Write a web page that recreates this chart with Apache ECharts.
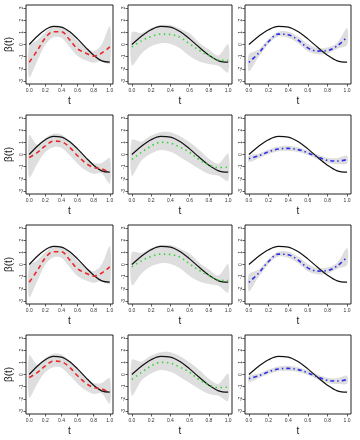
<!DOCTYPE html>
<html>
<head>
<meta charset="utf-8">
<script src="https://cdn.jsdelivr.net/npm/echarts@6/dist/echarts.min.js"></script>
<style>
  html, body { margin: 0; padding: 0; background: #fff; }
  #chart { width: 360px; height: 440px; }
</style>
</head>
<body>
<div id="chart"></div>
<script>
const tValues = [0, 0.1, 0.2, 0.3, 0.4, 0.5, 0.6, 0.7, 0.8, 0.9, 1.0]
const xTicks = [0, 0.2, 0.4, 0.6, 0.8, 1.0]
const yTicks = [-3, -2, -1, 0, 1, 2, 3]
const trueBeta = [0, 0.68, 1.21, 1.48, 1.43, 1.06, 0.46, -0.23, -0.88, -1.34, -1.45]

// rows 1 and 3
const redEstA = [-1.45, -0.5, 0.55, 1.05, 1.05, 0.4, -0.35, -0.7, -0.95, -0.7, -0.2]
const redLoA = [-2.7, -1.35, 0.0, 0.6, 0.55, -0.2, -0.95, -1.3, -1.5, -1.35, -1.6]
const redHiA = [-0.1, 0.35, 1.0, 1.5, 1.5, 1.0, 0.3, -0.2, -0.55, 0.0, 1.5]

const greenEstA = [-0.2, 0.3, 0.65, 0.85, 0.82, 0.6, 0.05, -0.48, -0.9, -1.27, -1.32]
const greenLoA = [-1.7, -0.75, -0.15, 0.1, 0.05, -0.3, -0.95, -1.4, -1.6, -1.75, -2.3]
const greenHiA = [1.0, 0.95, 1.35, 1.6, 1.6, 1.3, 0.9, 0.15, -0.4, -0.9, 0.05]

const blueEstA = [-1.46, -0.7, 0.25, 0.85, 0.8, 0.37, -0.28, -0.54, -0.5, -0.11, 0.6]
const blueLoA = [-2.2, -1.0, 0.05, 0.65, 0.55, 0.1, -0.55, -0.8, -0.75, -0.35, -0.05]
const blueHiA = [-0.8, -0.4, 0.45, 1.05, 1.05, 0.65, 0.05, -0.3, -0.25, 0.15, 1.35]

// rows 2 and 4
const redEstB = [-0.25, 0.15, 0.7, 1.1, 1.05, 0.6, -0.1, -0.7, -1.07, -1.18, -1.5]
const redLoB = [-1.9, -0.75, 0.2, 0.6, 0.55, -0.05, -0.75, -1.3, -1.6, -1.55, -2.4]
const redHiB = [1.6, 0.8, 1.35, 1.7, 1.65, 1.15, 0.4, -0.2, -0.7, -0.7, -0.3]

const greenEstB = [-0.4, 0.17, 0.7, 1.0, 0.93, 0.6, 0.17, -0.42, -0.85, -1.07, -1.04]
const greenLoB = [-1.75, -0.5, 0.08, 0.37, 0.22, -0.2, -0.7, -1.18, -1.6, -1.75, -2.17]
const greenHiB = [1.2, 1.05, 1.55, 1.83, 1.83, 1.5, 1.0, 0.37, -0.34, -0.76, 0.08]

const blueEstB = [-0.34, -0.11, 0.22, 0.45, 0.5, 0.4, 0.14, -0.2, -0.48, -0.54, -0.42]
const blueLoB = [-0.6, -0.3, 0.05, 0.27, 0.3, 0.2, -0.05, -0.4, -0.7, -0.78, -0.75]
const blueHiB = [-0.1, 0.08, 0.4, 0.65, 0.72, 0.6, 0.33, 0.0, -0.27, -0.3, -0.1]

const rowA = [
  { est: redEstA, lo: redLoA, hi: redHiA, color: '#E8282B', dash: [4.5, 3.5] },
  { est: greenEstA, lo: greenLoA, hi: greenHiA, color: '#33D633', dash: [1.5, 3.5] },
  { est: blueEstA, lo: blueLoA, hi: blueHiA, color: '#2F2FE8', dash: [1.5, 3, 4, 3] },
]
const rowB = [
  { est: redEstB, lo: redLoB, hi: redHiB, color: '#E8282B', dash: [4.5, 3.5] },
  { est: greenEstB, lo: greenLoB, hi: greenHiB, color: '#33D633', dash: [1.5, 3.5] },
  { est: blueEstB, lo: blueLoB, hi: blueHiB, color: '#2F2FE8', dash: [1.5, 3, 4, 3] },
]
const rows = [rowA, rowB, rowA, rowB]

const colLeft = [26, 128, 245]
const colWidth = [87, 104, 106]
const rowTop = [5, 115, 225, 335]
const panelHeight = 79
const font = 'Liberation Sans, Arial, sans-serif'

const zip = (xs, ys) => xs.map((x, i) => [x, ys[i]])

// confidence band as one smoothed polygon: upper edge forward, lower edge back
function bandItem(p) {
  return (params, api) => {
    if (params.dataIndex !== 0) return null
    const upper = tValues.map((t, i) => api.coord([t, p.hi[i]]))
    const lower = tValues.map((t, i) => api.coord([t, p.lo[i]])).reverse()
    return {
      type: 'polygon',
      shape: { points: upper.concat(lower), smooth: 0.3 },
      style: { fill: '#DEDEDE' },
    }
  }
}

const grids = [], xAxes = [], yAxes = [], series = []
rows.forEach((row, ri) => {
  row.forEach((p, ci) => {
    const idx = grids.length
    grids.push({
      left: colLeft[ci], top: rowTop[ri], width: colWidth[ci], height: panelHeight,
      show: true, borderColor: '#222', borderWidth: 1, backgroundColor: 'transparent',
    })
    xAxes.push({
      gridIndex: idx, type: 'value', min: -0.04, max: 1.04,
      axisLine: { show: false, onZero: false },
      axisTick: { show: true, length: 2.5, customValues: xTicks, lineStyle: { color: '#333', width: 0.8 } },
      axisLabel: {
        customValues: xTicks, formatter: (v) => v.toFixed(1),
        fontSize: 5, margin: 4, color: '#333', fontFamily: font,
      },
      splitLine: { show: false },
      name: 't', nameLocation: 'middle', nameGap: 12,
      nameTextStyle: { fontSize: 10, color: '#222', fontFamily: font },
    })
    yAxes.push({
      gridIndex: idx, type: 'value', min: -3.24, max: 3.24,
      axisLine: { show: false, onZero: false },
      axisTick: { show: true, length: 2.5, customValues: yTicks, lineStyle: { color: '#333', width: 0.8 } },
      axisLabel: {
        customValues: yTicks, rotate: 90,
        fontSize: 5, margin: 2, color: '#333', fontFamily: font,
      },
      splitLine: { show: false },
      name: ci === 0 ? 'β(t)' : '', nameLocation: 'middle', nameGap: 12, nameRotate: 90,
      nameTextStyle: { fontSize: 10, color: '#222', fontFamily: font },
    })
    const base = { xAxisIndex: idx, yAxisIndex: idx, silent: true }
    series.push({
      ...base, type: 'custom', clip: true,
      data: tValues.map((t, i) => [t, p.lo[i], p.hi[i]]),
      encode: { x: 0, y: [1, 2] },
      renderItem: bandItem(p),
    })
    series.push({
      ...base, type: 'line', symbol: 'none', smooth: 0.35, data: zip(tValues, trueBeta),
      lineStyle: { color: '#111', width: 1.2 },
    })
    series.push({
      ...base, type: 'line', symbol: 'none', smooth: 0.35, data: zip(tValues, p.est),
      lineStyle: { color: p.color, width: 1.6, type: p.dash },
    })
  })
})

const chart = echarts.init(document.getElementById('chart'))
chart.setOption({
  animation: false,
  grid: grids,
  xAxis: xAxes,
  yAxis: yAxes,
  series: series,
})
</script>
</body>
</html>
